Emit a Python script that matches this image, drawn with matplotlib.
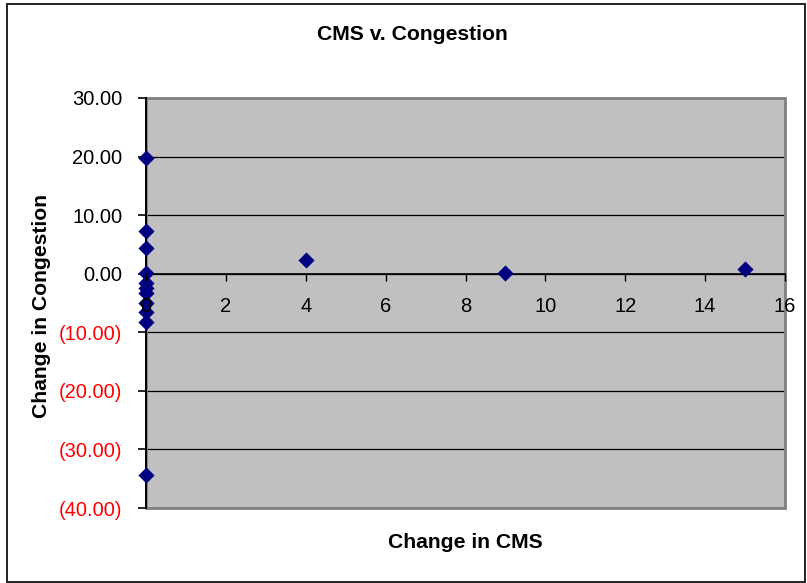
import matplotlib
matplotlib.use("Agg")
import matplotlib.pyplot as plt
from matplotlib.patches import Rectangle
from matplotlib.ticker import FuncFormatter, MultipleLocator

plt.rcParams['font.family'] = ['Liberation Sans', 'DejaVu Sans']

# Change in CMS vs. change in congestion
cms_change = [0, 0, 0, 0, 0, 0, 0, 0, 0, 0, 0, 4, 9, 15]
congestion_change = [19.8, 7.3, 4.4, 0.2, -1.6, -3.3, -5.0, -6.5, -8.2,
                     -2.4, -34.3, 2.4, 0.2, 0.8]

title_text = "CMS v. Congestion"
x_label = "Change in CMS"
y_label = "Change in Congestion"

fig = plt.figure(figsize=(8.07, 5.83), dpi=100)
fig.patch.set_facecolor('white')

# outer chart border
fig.add_artist(Rectangle((7 / 807, 1 / 583), 798 / 807, 578 / 583,
                         transform=fig.transFigure, fill=False,
                         edgecolor='#222222', linewidth=1.4))

ax = fig.add_axes([146 / 807, 75 / 583, 639 / 807, 410 / 583])
ax.set_facecolor('#C0C0C0')
ax.set_xlim(0, 16)
ax.set_ylim(-40, 30)

ax.yaxis.set_major_locator(MultipleLocator(10))
ax.xaxis.set_major_locator(MultipleLocator(2))
ax.grid(axis='y', color='black', linewidth=0.9)
ax.set_axisbelow(True)


def fmt_y(v, pos):
    if v < 0:
        return "({:.2f})".format(-v)
    return "{:.2f}".format(v)


ax.yaxis.set_major_formatter(FuncFormatter(fmt_y))
ax.xaxis.set_major_formatter(FuncFormatter(lambda v, p: "{:d}".format(int(round(v)))))

for s in ['top', 'right']:
    ax.spines[s].set_visible(False)
ax.spines['bottom'].set_position(('data', 0))
ax.spines['bottom'].set_color('black')
ax.spines['bottom'].set_linewidth(1.2)
ax.spines['left'].set_color('black')
ax.spines['left'].set_linewidth(1.4)

# plot-area frame
ax.add_patch(Rectangle((0, 0), 1, 1, transform=ax.transAxes, fill=False,
                       edgecolor='#808080', linewidth=2.0, zorder=1,
                       clip_on=False))

ax.tick_params(axis='y', direction='out', length=6, width=1.2, pad=11,
               labelsize=14.5, colors='black')
ax.tick_params(axis='x', direction='out', length=5, width=1.0, pad=12,
               labelsize=14.5, colors='black')
for lbl, v in zip(ax.get_yticklabels(), ax.get_yticks()):
    if v < 0:
        lbl.set_color('red')

# x tick labels sit on top of the markers
ax.xaxis.set_zorder(4)

ax.scatter(cms_change, congestion_change, marker='D', s=68,
           color='#000080', zorder=3, clip_on=False, linewidths=0)

fig.text(412 / 807, 1 - 34 / 583, title_text, ha='center', va='center',
         fontsize=15.2, fontweight='bold')
fig.text(465 / 807, 1 - 543 / 583, x_label, ha='center', va='center',
         fontsize=15.2, fontweight='bold')
fig.text(42 / 807, 1 - 306 / 583, y_label, ha='center', va='center',
         fontsize=15.2, fontweight='bold', rotation=90)

fig.savefig("out.png", dpi=100)
